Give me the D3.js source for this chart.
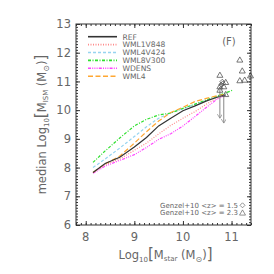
<!DOCTYPE html>
<html>
<head>
<meta charset="utf-8">
<script src="https://cdn.jsdelivr.net/npm/d3@7"></script>
<style>
  body { margin: 0; background: #fff; }
  svg text { font-family: "DejaVu Sans", sans-serif; fill: #666; }
</style>
</head>
<body>
<script>
// stellar mass grid (log10 Msun) shared by the model curves
var mstar = [8.15, 8.4, 8.7, 9.0, 9.25, 9.5, 9.75, 10.0, 10.25, 10.5, 10.7, 10.88];

var refVals      = [7.83, 8.14, 8.36, 8.72, 9.05, 9.45, 9.72, 9.98, 10.15, 10.33, 10.45, 10.53];
var wml1v848Vals = [7.83, 8.10, 8.30, 8.60, 8.85, 9.17, 9.47, 9.72, 9.95, 10.23, 10.42, 10.52];
var wml4v424Vals = [8.00, 8.30, 8.68, 9.08, 9.42, 9.72, 9.90, 10.05, 10.20, 10.35, 10.45, 10.53];
var wml8v300Vals = [8.18, 8.58, 9.03, 9.45, 9.68, 9.83, 9.90, 10.06, 10.21, 10.37, 10.49, 10.60, 10.70];
var wml8v300X    = mstar.concat([11.03]);
var wdensVals    = [7.80, 8.05, 8.25, 8.45, 8.70, 8.98, 9.18, 9.45, 9.78, 10.12, 10.38, 10.52];
var wml4Vals     = [7.83, 8.13, 8.40, 8.85, 9.25, 9.62, 9.92, 10.10, 10.30, 10.42, 10.50, 10.55];

var modelNames = ["REF", "WML1V848", "WML4V424", "WML8V300", "WDENS", "WML4"];

// Genzel+10 observations
var genzelZ15X = [10.81, 10.82, 10.79];
var genzelZ15Y = [10.99, 10.93, 10.88];
var genzelZ23X = [11.17, 11.22, 11.17, 11.27, 11.39, 10.76, 10.88, 10.76, 10.84, 10.76, 10.88];
var genzelZ23Y = [11.75, 11.37, 11.03, 11.05, 11.20, 11.22, 10.97, 10.82, 10.82, 10.70, 10.55];
// upper limits: x, top, arrow tip
var limitX   = [10.76, 10.84];
var limitTop = [10.76, 10.53];
var limitTip = [9.72, 9.55];

var xTicks = [8, 9, 10, 11];
var yTicks = [6, 7, 8, 9, 10, 11, 12, 13];

var W = 274, H = 274;
var padL = 76, padR = 251, padT = 24, padB = 225;

var x = d3.scaleLinear().domain([7.8, 11.4]).range([padL, padR]);
var y = d3.scaleLinear().domain([6, 13]).range([padB, padT]);

var svg = d3.select("body").append("svg")
    .attr("width", W)
    .attr("height", H);

var styles = [
  {color: "#333333", dash: null},
  {color: "#ff8a8a", dash: "1,1.5"},
  {color: "#96d4f0", dash: "3,2"},
  {color: "#2ee02e", dash: "3,1.5,1,1.5"},
  {color: "#ff44ff", dash: "3,1.2,1,1.2,1,1.2,1,1.2"},
  {color: "#ffa733", dash: "5,2.5"}
];

var series = [
  {xs: mstar, ys: refVals},
  {xs: mstar, ys: wml1v848Vals},
  {xs: mstar, ys: wml4v424Vals},
  {xs: wml8v300X, ys: wml8v300Vals},
  {xs: mstar, ys: wdensVals},
  {xs: mstar, ys: wml4Vals}
];

var line = d3.line()
    .x(function(d) { return x(d[0]); })
    .y(function(d) { return y(d[1]); });

// draw in an order so REF sits on top
[1, 4, 2, 3, 5, 0].forEach(function(i) {
  var pts = series[i].xs.map(function(v, k) { return [v, series[i].ys[k]]; });
  svg.append("path")
      .attr("d", line(pts))
      .attr("fill", "none")
      .attr("stroke", styles[i].color)
      .attr("stroke-width", 1.2)
      .attr("stroke-dasharray", styles[i].dash);
});

// upper limit arrows
svg.append("defs").append("marker")
    .attr("id", "head")
    .attr("viewBox", "0 0 10 10")
    .attr("refX", 5).attr("refY", 10)
    .attr("markerWidth", 5).attr("markerHeight", 6)
    .attr("markerUnits", "userSpaceOnUse")
    .attr("orient", "0")
  .append("path")
    .attr("d", "M0,2 L5,10 L10,2")
    .attr("fill", "none")
    .attr("stroke", "#888")
    .attr("stroke-width", 1.5);

limitX.forEach(function(v, i) {
  svg.append("line")
      .attr("x1", x(v)).attr("x2", x(v))
      .attr("y1", y(limitTop[i])).attr("y2", y(limitTip[i]))
      .attr("stroke", "#888")
      .attr("stroke-width", 1)
      .attr("marker-end", "url(#head)");
});

function triangle(cx, cy) {
  return "M" + cx + "," + (cy - 3) + "L" + (cx + 3) + "," + (cy + 2.2) + "L" + (cx - 3) + "," + (cy + 2.2) + "Z";
}
function diamond(cx, cy) {
  return "M" + cx + "," + (cy - 2.5) + "L" + (cx + 2.5) + "," + cy + "L" + cx + "," + (cy + 2.5) + "L" + (cx - 2.5) + "," + cy + "Z";
}

genzelZ23X.forEach(function(v, i) {
  svg.append("path")
      .attr("d", triangle(x(v), y(genzelZ23Y[i])))
      .attr("fill", "none").attr("stroke", "#555").attr("stroke-width", 0.8);
});
genzelZ15X.forEach(function(v, i) {
  svg.append("path")
      .attr("d", diamond(x(v), y(genzelZ15Y[i])))
      .attr("fill", "none").attr("stroke", "#555").attr("stroke-width", 0.8);
});

// axes box with inward ticks on every side
var axisColor = "#333";
svg.append("rect")
    .attr("x", padL).attr("y", padT)
    .attr("width", padR - padL).attr("height", padB - padT)
    .attr("fill", "none").attr("stroke", axisColor).attr("stroke-width", 1);

var xMinor = d3.range(7.8, 11.41, 0.1).map(function(v) { return Math.round(v * 10) / 10; });
var yMinor = d3.range(6, 13.01, 0.1).map(function(v) { return Math.round(v * 10) / 10; });

function ticks(axis, tr) {
  svg.append("g").attr("transform", tr)
      .call(axis)
      .call(function(g) { g.select(".domain").remove(); });
}
ticks(d3.axisTop(x).tickValues(xMinor).tickSize(2).tickFormat(""), "translate(0," + padB + ")");
ticks(d3.axisTop(x).tickValues(xTicks).tickSize(4).tickFormat(""), "translate(0," + padB + ")");
ticks(d3.axisBottom(x).tickValues(xMinor).tickSize(2).tickFormat(""), "translate(0," + padT + ")");
ticks(d3.axisBottom(x).tickValues(xTicks).tickSize(4).tickFormat(""), "translate(0," + padT + ")");
ticks(d3.axisRight(y).tickValues(yMinor).tickSize(2).tickFormat(""), "translate(" + padL + ",0)");
ticks(d3.axisRight(y).tickValues(yTicks).tickSize(4).tickFormat(""), "translate(" + padL + ",0)");
ticks(d3.axisLeft(y).tickValues(yMinor).tickSize(2).tickFormat(""), "translate(" + padR + ",0)");
ticks(d3.axisLeft(y).tickValues(yTicks).tickSize(4).tickFormat(""), "translate(" + padR + ",0)");
svg.selectAll(".tick line").attr("stroke", axisColor);

// tick labels
svg.selectAll(".xlab").data(xTicks).enter().append("text")
    .attr("x", function(d) { return x(d); })
    .attr("y", 241)
    .attr("text-anchor", "middle")
    .style("font-size", "11.5px")
    .text(function(d) { return d; });
svg.selectAll(".ylab").data(yTicks).enter().append("text")
    .attr("x", 71)
    .attr("y", function(d) { return y(d) + 4.2; })
    .attr("text-anchor", "end")
    .style("font-size", "11.5px")
    .text(function(d) { return d; });

// axis titles
var xt = svg.append("text")
    .attr("x", (padL + padR) / 2 + 2)
    .attr("y", 259)
    .attr("text-anchor", "middle")
    .style("font-size", "11.5px");
xt.append("tspan").text("Log");
xt.append("tspan").attr("dy", 3).style("font-size", "7px").text("10");
xt.append("tspan").attr("dy", -3).style("font-size", "15px").text("[");
xt.append("tspan").text("M");
xt.append("tspan").attr("dy", 2).style("font-size", "7px").text("star");
xt.append("tspan").attr("dy", -2).text(" (M");
xt.append("tspan").attr("dy", 3).style("font-size", "8px").text("\u2299");
xt.append("tspan").attr("dy", -3).text(")");
xt.append("tspan").style("font-size", "15px").text("]");

var yt = svg.append("text")
    .attr("transform", "translate(46," + ((padT + padB) / 2) + ") rotate(-90)")
    .attr("text-anchor", "middle")
    .style("font-size", "11.5px");
yt.append("tspan").text("median Log");
yt.append("tspan").attr("dy", 3).style("font-size", "7px").text("10");
yt.append("tspan").attr("dy", -3).style("font-size", "15px").text("[");
yt.append("tspan").text("M");
yt.append("tspan").attr("dy", 2).style("font-size", "7px").text("ISM");
yt.append("tspan").attr("dy", -2).text(" (M");
yt.append("tspan").attr("dy", 3).style("font-size", "8px").text("\u2299");
yt.append("tspan").attr("dy", -3).text(")");
yt.append("tspan").style("font-size", "15px").text("]");

// legend
var legY0 = 36.7, legStep = 7.9;
modelNames.forEach(function(name, i) {
  var ly = legY0 + i * legStep;
  svg.append("line")
      .attr("x1", 88).attr("x2", 117)
      .attr("y1", ly).attr("y2", ly)
      .attr("stroke", styles[i].color)
      .attr("stroke-width", 1.6)
      .attr("stroke-dasharray", styles[i].dash);
  svg.append("text")
      .attr("x", 122.5)
      .attr("y", ly + 2.8)
      .style("font-size", "7.6px")
      .text(name);
});

svg.append("text")
    .attr("x", 229).attr("y", 44.5)
    .attr("text-anchor", "middle")
    .style("font-size", "10px")
    .text("(F)");

// Genzel key
svg.append("text")
    .attr("x", 238).attr("y", 207.8)
    .attr("text-anchor", "end")
    .style("font-size", "7px")
    .text("Genzel+10 <z> = 1.5");
svg.append("path").attr("d", diamond(242.5, 205.3))
    .attr("fill", "none").attr("stroke", "#666").attr("stroke-width", 0.7);
svg.append("text")
    .attr("x", 238).attr("y", 215.2)
    .attr("text-anchor", "end")
    .style("font-size", "7px")
    .text("Genzel+10 <z> = 2.3");
svg.append("path").attr("d", triangle(242.5, 212.9))
    .attr("fill", "none").attr("stroke", "#666").attr("stroke-width", 0.7);
</script>
</body>
</html>
